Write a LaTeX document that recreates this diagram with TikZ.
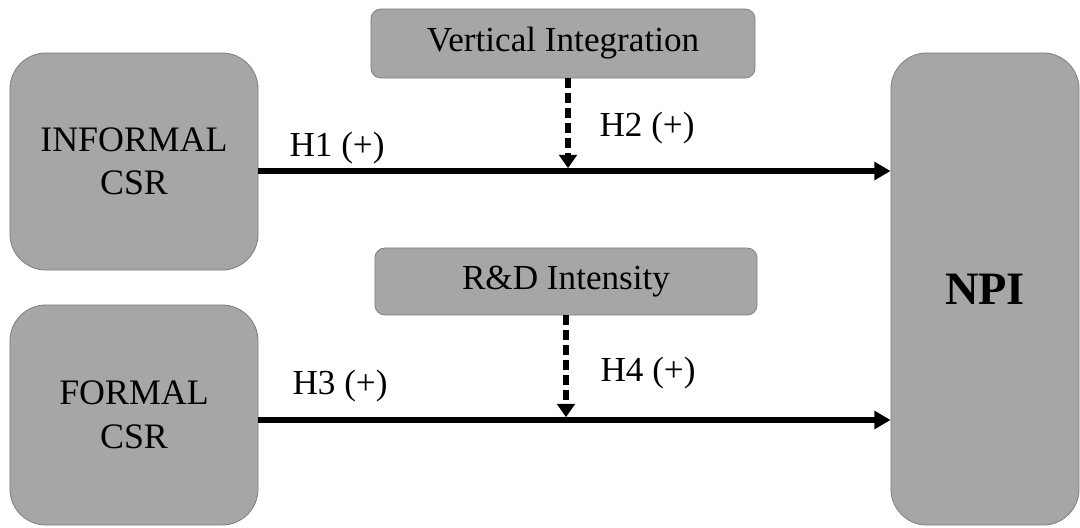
\documentclass[tikz,border=0pt]{standalone}
\usepackage{fontspec}
\setmainfont{Liberation Serif}
\usetikzlibrary{arrows.meta}
\definecolor{boxgray}{RGB}{166,166,166}
\definecolor{boxedge}{RGB}{128,128,128}

\begin{document}
\begin{tikzpicture}[x=0.025cm, y=-0.025cm]
    \tikzstyle{construct} = [rectangle, rounded corners=0.9cm, draw=boxedge, fill=boxgray, line width=0.6pt, align=center, font=\fontsize{25.5}{31}\selectfont]
    \tikzstyle{moderator} = [rectangle, rounded corners=0.25cm, draw=boxedge, fill=boxgray, line width=0.6pt, font=\fontsize{25}{30}\selectfont]
    \tikzstyle{arrow} = [line width=4pt, -{Triangle[length=11.5pt,width=12.5pt]}]
    \tikzstyle{dasharrow} = [line width=4.3pt, dash pattern=on 7pt off 3.6pt, shorten >=2pt, -{Triangle[length=9.5pt,width=12.5pt]}]
    \tikzstyle{hyp} = [font=\fontsize{25}{30}\selectfont]

    \useasboundingbox (0,0) rectangle (1080,527);

    \node[construct, minimum width=6.2cm, minimum height=5.425cm] (informal) at (134,161.5) {INFORMAL\\CSR};
    \node[construct, minimum width=6.2cm, minimum height=5.5cm] (formal) at (134,415) {FORMAL\\CSR};
    \node[construct, minimum width=4.7cm, minimum height=11.8cm, font=\fontsize{33}{40}\selectfont\bfseries] (npi) at (985,289) {NPI};
    \node[moderator, minimum width=9.6cm, minimum height=1.725cm] (vertical) at (563,43.5) {Vertical Integration};
    \node[moderator, minimum width=9.55cm, minimum height=1.675cm] (rnd) at (566,281.5) {R\&D Intensity};

    \coordinate (m1) at (568,171);
    \coordinate (m2) at (566,420);

    \draw[arrow] (informal.east |- m1) -- (npi.west |- m1);
    \draw[arrow] (formal.east |- m2) -- (npi.west |- m2);
    \draw[dasharrow] (vertical.south -| m1) -- (m1);
    \draw[dasharrow] (rnd.south -| m2) -- (m2);

    \node[hyp] (h1) at (337,148) {H1 (+)};
    \node[hyp] (h2) at (647,128) {H2 (+)};
    \node[hyp] (h3) at (340,386) {H3 (+)};
    \node[hyp] (h4) at (648,373) {H4 (+)};
\end{tikzpicture}
\end{document}
